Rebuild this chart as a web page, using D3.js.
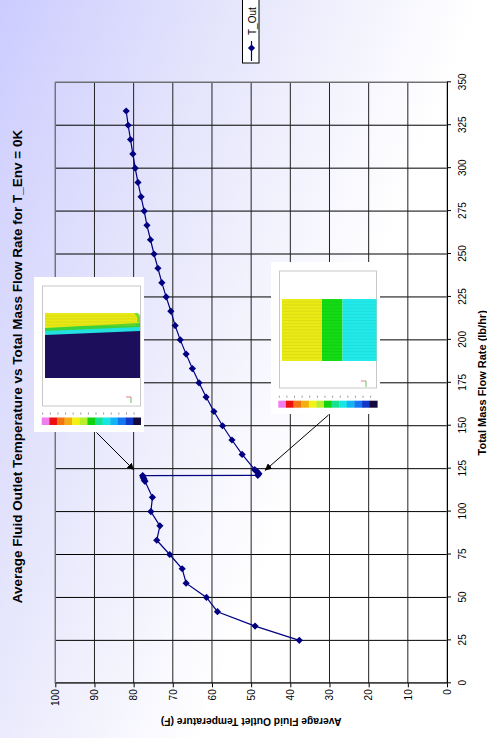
<!DOCTYPE html>
<html>
<head>
<meta charset="utf-8">
<script src="https://cdn.jsdelivr.net/npm/d3@7"></script>
<style>
  body { margin: 0; background: #fff; }
  svg { display: block; font-family: "Liberation Sans", Arial, sans-serif; }
</style>
</head>
<body>
<div id="chart"></div>
<script>
// data (flow in lb/hr, outlet temperature in F)
const flowRate = [25, 33.3, 41.7, 50, 58.3, 66.7, 75, 83.3, 91.7, 100, 108.3,
  117.6, 118.4, 119.2, 120.1, 121.0,
  121.1, 122.0, 122.8, 123.6, 124.4,
  133.3, 141.7, 150, 158.3, 166.7, 175, 183.3, 191.7, 200, 208.3, 216.7, 225,
  233.3, 241.7, 250, 258.3, 266.7, 275, 283.3, 291.7, 300, 308.3, 316.7, 325, 333.3];
const tOut = [37.7, 49.0, 58.6, 61.4, 66.6, 67.6, 70.8, 74.1, 73.3, 75.6, 75.2,
  77.1, 77.3, 77.4, 77.6, 77.7,
  48.3, 48.0, 48.3, 48.7, 49.1,
  52.3, 54.9, 57.3, 59.5, 61.5, 63.3, 65.0, 66.6, 68.1, 69.4, 70.5, 71.7,
  72.8, 73.8, 74.8, 75.7, 76.6, 77.3, 78.1, 78.9, 79.6, 80.2, 80.8, 81.4, 81.9];
const flowTicks = d3.range(0, 351, 25);
const tempTicks = d3.range(0, 101, 10);
const seriesName = 'T_Out';
const colorbar = ['#f07ef0', '#ec1010', '#f27414', '#f4ae12', '#f2f214', '#b8ee2c',
  '#12d212', '#14e290', '#16e6e6', '#14b4f4', '#1478f2', '#1238c8', '#140a3c'];

const W = 487, H = 738;
const svg = d3.select('#chart').append('svg').attr('width', W).attr('height', H);

const defs = svg.append('defs');
const bg = defs.append('linearGradient').attr('id', 'bg')
  .attr('gradientUnits', 'userSpaceOnUse')
  .attr('x1', 0).attr('y1', 0).attr('x2', 420).attr('y2', 160);
bg.append('stop').attr('offset', 0).attr('stop-color', '#ccccff');
bg.append('stop').attr('offset', 0.5).attr('stop-color', '#e6e6fc');
bg.append('stop').attr('offset', 1).attr('stop-color', '#ffffff');
defs.append('marker').attr('id', 'arrow').attr('viewBox', '0 0 10 10')
  .attr('refX', 10).attr('refY', 5).attr('markerWidth', 7).attr('markerHeight', 7)
  .attr('markerUnits', 'userSpaceOnUse').attr('orient', 'auto')
  .append('path').attr('d', 'M0,0L10,5L0,10Z').attr('fill', '#000');

svg.append('rect').attr('width', W).attr('height', H).attr('fill', 'url(#bg)');

// the whole chart is turned a quarter turn counter-clockwise
const g = svg.append('g').attr('transform', `translate(0,${H}) rotate(-90)`);

const x = d3.scaleLinear().domain([0, 350]).range([54.7, 655.7]);
const y = d3.scaleLinear().domain([0, 100]).range([447, 55.3]);
const toPage = (f, t) => [y(t), H - x(f)];

// gridlines
g.append('g').selectAll('line').data(flowTicks.slice(1)).join('line')
  .attr('x1', d => x(d)).attr('x2', d => x(d)).attr('y1', y(0)).attr('y2', y(100))
  .attr('stroke', '#000').attr('stroke-width', 1);
g.append('g').selectAll('line').data(tempTicks.slice(1)).join('line')
  .attr('x1', x(0)).attr('x2', x(350)).attr('y1', d => y(d)).attr('y2', d => y(d))
  .attr('stroke', '#222').attr('stroke-width', 1);
g.append('rect').attr('x', x(0)).attr('y', y(100))
  .attr('width', x(350) - x(0)).attr('height', y(0) - y(100))
  .attr('fill', 'none').attr('stroke', '#808080');

// axes
const xAxis = g.append('g').attr('transform', `translate(0,${y(0)})`)
  .call(d3.axisBottom(x).tickValues(flowTicks).tickSize(4).tickSizeOuter(0).tickPadding(8));
const yAxis = g.append('g').attr('transform', `translate(${x(0)},0)`)
  .call(d3.axisLeft(y).tickValues(tempTicks).tickSize(4).tickSizeOuter(0).tickPadding(2));
[xAxis, yAxis].forEach(a => {
  a.selectAll('text').attr('font-size', 10).attr('fill', '#000')
    .attr('font-family', '"Liberation Sans", Arial, sans-serif');
  a.select('.domain').attr('stroke', '#000');
});

// titles
g.append('text').attr('x', 371.5).attr('y', 21.5).attr('text-anchor', 'middle')
  .attr('font-size', 13.5).attr('font-weight', 'bold')
  .text('Average Fluid Outlet Temperature vs Total Mass Flow Rate for T_Env = 0K');
g.append('text').attr('x', (x(0) + x(350)) / 2).attr('y', 486).attr('text-anchor', 'middle')
  .attr('font-size', 11).attr('font-weight', 'bold')
  .text('Total Mass Flow Rate (lb/hr)');
g.append('text').attr('transform', `translate(20.5,${(y(0) + y(100)) / 2}) rotate(-90)`)
  .attr('text-anchor', 'middle').attr('font-size', 10.3).attr('font-weight', 'bold')
  .text('Average Fluid Outlet Temperature (F)');

// series
const pts = flowRate.map((f, i) => [f, tOut[i]]);
const diamond = 'M0,-3.6L3.6,0L0,3.6L-3.6,0Z';
g.append('path').datum(pts)
  .attr('d', d3.line().x(d => x(d[0])).y(d => y(d[1])))
  .attr('fill', 'none').attr('stroke', '#000080').attr('stroke-width', 1.2);
g.append('g').selectAll('path').data(pts).join('path')
  .attr('transform', d => `translate(${x(d[0])},${y(d[1])})`)
  .attr('d', diamond).attr('fill', '#000080');

// legend
const lg = g.append('g').attr('transform', 'translate(675,242.5)');
lg.append('rect').attr('width', 80).attr('height', 16.5)
  .attr('fill', '#fff').attr('stroke', '#000');
lg.append('line').attr('x1', 2).attr('x2', 22).attr('y1', 9).attr('y2', 9)
  .attr('stroke', '#000080').attr('stroke-width', 1.2);
lg.append('path').attr('transform', 'translate(15,9)').attr('d', diamond).attr('fill', '#000080');
lg.append('text').attr('x', 28).attr('y', 13).attr('font-size', 10).text(seriesName);

// inset pictures (page coordinates)
function colorBar(px, py, w, h) {
  const sw = w / colorbar.length;
  svg.append('g').selectAll('rect').data(colorbar).join('rect')
    .attr('x', (d, i) => px + i * sw).attr('y', py).attr('width', sw + 0.3).attr('height', h)
    .attr('fill', d => d);
  svg.append('g').selectAll('line').data(colorbar).join('line')
    .attr('x1', (d, i) => px + 1 + i * sw).attr('x2', (d, i) => px + 1 + i * sw)
    .attr('y1', py - 5).attr('y2', py - 3).attr('stroke', '#999').attr('stroke-width', 1);
}
function triad(px, py) {
  svg.append('line').attr('x1', px - 5).attr('x2', px).attr('y1', py).attr('y2', py)
    .attr('stroke', '#e06060').attr('stroke-width', 0.8);
  svg.append('line').attr('x1', px).attr('x2', px).attr('y1', py).attr('y2', py + 6)
    .attr('stroke', '#40b040').attr('stroke-width', 0.8);
}

// left picture
svg.append('rect').attr('x', 34).attr('y', 277).attr('width', 110).attr('height', 155).attr('fill', '#fff');
svg.append('rect').attr('x', 42.5).attr('y', 286).attr('width', 98).attr('height', 120)
  .attr('fill', '#fff').attr('stroke', '#c8c8c8');
svg.append('path').attr('d', 'M45,334L140,330L140,378L45,378Z').attr('fill', '#1c0e5a');
svg.append('path').attr('d', 'M45,330L140,326L140,331L45,335Z').attr('fill', '#22e0e0');
svg.append('path').attr('d', 'M45,327L140,322L140,327L45,331Z').attr('fill', '#3cd23c');
svg.append('path').attr('d', 'M45,313L136,313Q140,313 140,318L140,323L45,328Z').attr('fill', '#e8e818');
svg.append('path').attr('d', 'M136,313Q140,313 140,318L140,323L137,322Q138,316 134,313Z').attr('fill', '#7ad83a');
svg.append('g').selectAll('line').data(d3.range(316, 327, 3)).join('line')
  .attr('x1', 45).attr('x2', 136).attr('y1', d => d).attr('y2', d => d)
  .attr('stroke', '#d2d200').attr('stroke-width', 0.5);
triad(131, 397);
colorBar(41.7, 417.5, 99, 7.5);

// right picture
svg.append('rect').attr('x', 271).attr('y', 262).attr('width', 109).attr('height', 152).attr('fill', '#fff');
svg.append('rect').attr('x', 279.5).attr('y', 271).attr('width', 97).attr('height', 117)
  .attr('fill', '#fff').attr('stroke', '#c8c8c8');
svg.append('rect').attr('x', 282).attr('y', 299).attr('width', 40).attr('height', 62).attr('fill', '#eaea16');
svg.append('rect').attr('x', 322).attr('y', 299).attr('width', 20.5).attr('height', 62).attr('fill', '#14dc14');
svg.append('rect').attr('x', 342.5).attr('y', 299).attr('width', 34).attr('height', 62).attr('fill', '#22eaea');
svg.append('g').selectAll('line').data(d3.range(302, 360, 3.1)).join('line')
  .attr('x1', 282).attr('x2', 376.5).attr('y1', d => d).attr('y2', d => d)
  .attr('stroke', '#000').attr('stroke-opacity', 0.12).attr('stroke-width', 0.5);
triad(366, 381);
colorBar(278.3, 400.7, 99, 7);

// arrows to the two jump points
const a1 = toPage(124.2, 79.9), a2 = toPage(123.9, 46.5);
svg.append('line').attr('x1', 96.5).attr('y1', 432.5).attr('x2', a1[0]).attr('y2', a1[1])
  .attr('stroke', '#000').attr('stroke-width', 1).attr('marker-end', 'url(#arrow)');
svg.append('line').attr('x1', 328.5).attr('y1', 415).attr('x2', a2[0]).attr('y2', a2[1])
  .attr('stroke', '#000').attr('stroke-width', 1).attr('marker-end', 'url(#arrow)');
</script>
</body>
</html>
